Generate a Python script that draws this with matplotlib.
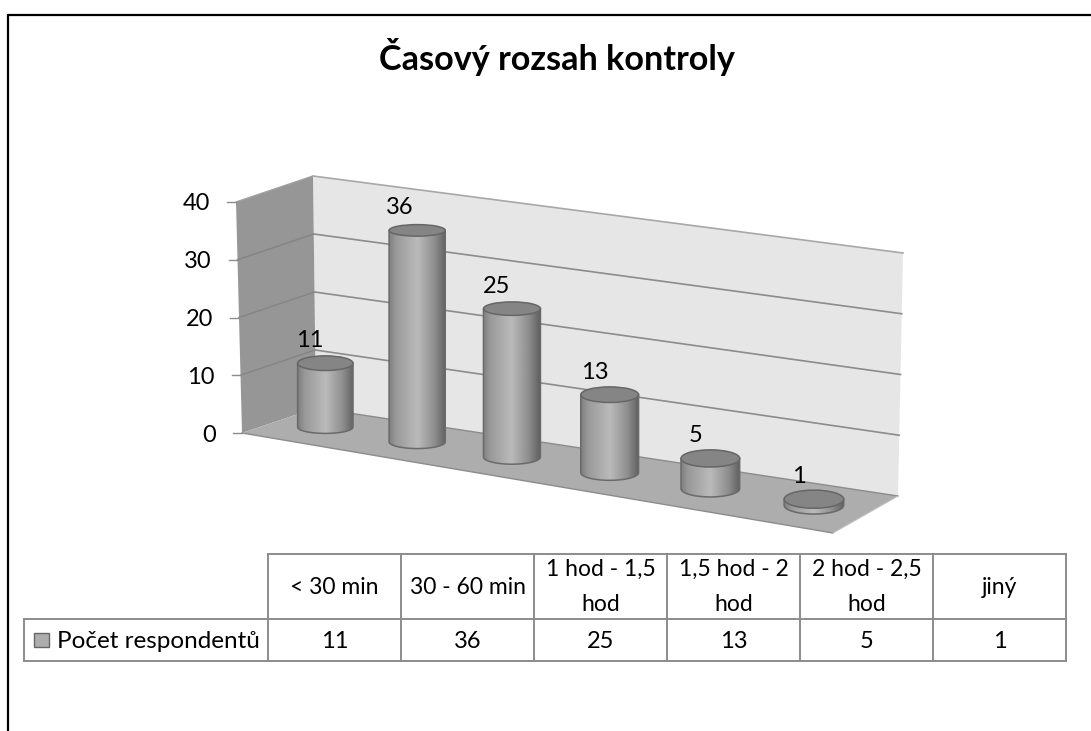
import matplotlib
matplotlib.use('Agg')
import matplotlib.pyplot as plt
import numpy as np
from matplotlib.patches import Ellipse, PathPatch, Polygon, Rectangle
from matplotlib.path import Path

categories = ['< 30 min', '30 - 60 min', '1 hod - 1,5\nhod', '1,5 hod - 2\nhod', '2 hod - 2,5\nhod', 'jiný']
values = [11, 36, 25, 13, 5, 1]
y_ticks = [0, 10, 20, 30, 40]
series_name = 'Počet respondentů'
title = 'Časový rozsah kontroly'

plt.rcParams['font.family'] = ['Lato', 'DejaVu Sans']
W, H = 1091, 731
VMAX = 40
BAR_DEPTH = 0.52

# corners of the floor and of the plane at VMAX: front left, front right, back right, back left
floor = np.array([(242, 433), (833, 533), (898, 496), (316, 408)], float)
roof = np.array([(236, 202), (838, 283), (903, 253), (313, 176)], float)


def corner_mix(q, u, d):
    front = (1 - u) * q[0] + u * q[1]
    back = (1 - u) * q[3] + u * q[2]
    return (1 - d) * front + d * back


def project(u, d, v):
    t = v / VMAX
    return (1 - t) * corner_mix(floor, u, d) + t * corner_mix(roof, u, d)


def bar_u(i, n):
    # small perspective squeeze along the category axis
    u = (i + 0.5) / n
    return u - 0.09 * u * (1 - u)


def gradient_colors():
    # shading across a cylinder, left edge to right edge
    return np.interp(np.linspace(0, 1, 128), [0, 0.12, 0.5, 0.8, 1], [0.50, 0.60, 0.73, 0.56, 0.38])


def cylinder(ax, u, value, zorder):
    base = project(u, BAR_DEPTH, 0)
    top = project(u, BAR_DEPTH, value)
    width = 55 + 5 * u
    h_top = 16 + 2.5 * u - 0.14 * value
    h_base = 12 + 6 * u
    r = width / 2
    top[0] = base[0]

    # side: rectangle closed by the lower half of the base ellipse
    th = np.linspace(np.pi, 0, 40)
    low_x = base[0] + r * np.cos(th)
    low_y = base[1] + h_base / 2 * np.sin(th)
    vx = np.r_[base[0] - r, low_x, base[0] + r, base[0] - r]
    vy = np.r_[top[1], low_y, top[1], top[1]]
    path = Path(np.c_[vx, vy])
    shade = gradient_colors()[None, :]
    img = ax.imshow(shade, cmap='gray', vmin=0, vmax=1, aspect='auto', zorder=zorder,
                    extent=(base[0] - r, base[0] + r, base[1] + h_base, top[1] - h_top),
                    interpolation='bilinear')
    clip = PathPatch(path, transform=ax.transData, facecolor='none', edgecolor='#6a6a6a', lw=1.1, zorder=zorder + 0.1)
    ax.add_patch(clip)
    img.set_clip_path(clip)
    ax.add_patch(Ellipse(top, width, h_top, facecolor='#858585', edgecolor='#666666', lw=1.1, zorder=zorder + 0.2))


fig = plt.figure(figsize=(W / 100, H / 100), dpi=100)
ax = fig.add_axes([0, 0, 1, 1])
ax.set_xlim(0, W)
ax.set_ylim(H, 0)
ax.axis('off')

# frame of the pasted chart, only top and left survive
ax.plot([8, W], [14.5, 14.5], color='black', lw=1.6, solid_capstyle='butt')
ax.plot([8, 8], [14, H], color='black', lw=1.6, solid_capstyle='butt')

ax.text(556.5, 70, title, fontsize=24.6, fontweight='bold', ha='center', va='baseline', color='black')

# walls and floor
ax.add_patch(Polygon([project(0, 1, 0), project(1, 1, 0), project(1, 1, VMAX), project(0, 1, VMAX)],
                     facecolor='#e6e6e6', edgecolor='none', zorder=1))
ax.add_patch(Polygon([project(0, 0, 0), project(0, 1, 0), project(0, 1, VMAX), project(0, 0, VMAX)],
                     facecolor='#969696', edgecolor='none', zorder=1))
ax.add_patch(Polygon([project(0, 0, 0), project(1, 0, 0), project(1, 1, 0), project(0, 1, 0)],
                     facecolor='#adadad', edgecolor='none', zorder=1.5))
ax.plot(*np.array([project(0, 0, 0), project(1, 0, 0)]).T, color='#8c8c8c', lw=1, zorder=1.6)
ax.plot(*np.array([project(0, 1, 0), project(1, 1, 0)]).T, color='#8c8c8c', lw=1, zorder=1.6)
ax.plot(*np.array([project(1, 0, 0), project(1, 1, 0)]).T, color='#c0c0c0', lw=0.8, zorder=1.6)

# gridlines and y ticks
for t in y_ticks:
    pts = np.array([project(0, 0, t), project(0, 1, t), project(1, 1, t)])
    if t > 0:
        col = '#a8a8a8' if t == VMAX else '#8c8c8c'
        ax.plot(pts[:2, 0], pts[:2, 1], color='#858585' if t < VMAX else '#a0a0a0', lw=1, zorder=1.4)
        ax.plot(pts[1:, 0], pts[1:, 1], color=col, lw=1.2, zorder=1.4)
    ax.plot([pts[0, 0] - 9, pts[0, 0]], [pts[0, 1], pts[0, 1]], color='#8c8c8c', lw=1, zorder=1.4)
    ax.text(pts[0, 0] - 26, pts[0, 1], str(t), fontsize=17, ha='right', va='center_baseline', color='black')

# cylinders and labels
n = len(values)
for i, val in enumerate(values):
    u = bar_u(i, n)
    cylinder(ax, u, val, 2 + 0.5 * i)
    top = project(u, BAR_DEPTH, val)
    ax.text(top[0] - 15, top[1] - 24.5, str(val), fontsize=17, ha='center', va='center_baseline',
            color='black', zorder=10)

ax.set_xlim(0, W)
ax.set_ylim(H, 0)

# data table under the chart
x0, cw = 268, 133
y0, y1, y2 = 554, 619, 661
leg_x = 24
line = dict(color='#8c8c8c', lw=1.4, solid_capstyle='projecting')
ax.plot([x0, x0 + n * cw], [y0, y0], **line)
ax.plot([leg_x, x0 + n * cw], [y1, y1], **line)
ax.plot([leg_x, x0 + n * cw], [y2, y2], **line)
ax.plot([leg_x, leg_x], [y1, y2], **line)
for i in range(n + 1):
    ax.plot([x0 + i * cw] * 2, [y0, y2], **line)
for i, (cat, val) in enumerate(zip(categories, values)):
    cx = x0 + (i + 0.5) * cw
    ax.text(cx, (y0 + y1) / 2 + 0.5, cat, fontsize=16.5, ha='center', va='center', linespacing=1.8, color='black')
    ax.text(cx, (y1 + y2) / 2 + 1, str(val), fontsize=17, ha='center', va='center', color='black')
ax.add_patch(Rectangle((33.5, 632.5), 15, 14, facecolor='#adadad', edgecolor='#666666', lw=1))
ax.text(57, 648, series_name, fontsize=17.5, ha='left', va='baseline', color='black')

fig.savefig('out.png', dpi=100)
